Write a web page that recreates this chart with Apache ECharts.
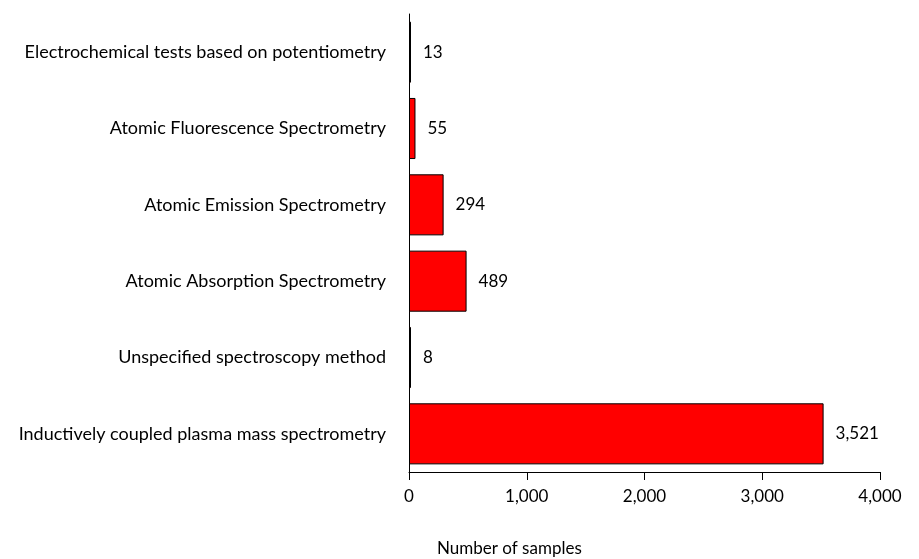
<!DOCTYPE html>
<html><head><meta charset="utf-8">
<script src="https://cdn.jsdelivr.net/npm/echarts@6/dist/echarts.min.js"></script>
<style>html,body{margin:0;padding:0;background:#fff}#c{width:919px;height:559px}</style>
</head><body><div id="c"></div>
<script>
const categories = [
  "Inductively coupled plasma mass spectrometry",
  "Unspecified spectroscopy method",
  "Atomic Absorption Spectrometry",
  "Atomic Emission Spectrometry",
  "Atomic Fluorescence Spectrometry",
  "Electrochemical tests based on potentiometry"
];
const sampleCounts = [3521, 8, 489, 294, 55, 13];
const xTicks = [0, 1000, 2000, 3000, 4000];
const xAxisTitle = "Number of samples";

const FONT = "Lato";
const chart = echarts.init(document.getElementById('c'), null, {renderer: 'canvas'});
chart.setOption({
  animation: false,
  backgroundColor: '#fff',
  grid: {left: 409, right: 39, top: 14, bottom: 87, containLabel: false},
  xAxis: {
    type: 'value', min: xTicks[0], max: xTicks[xTicks.length - 1], interval: 1000,
    axisLine: {show: true, lineStyle: {color: '#000', width: 1}},
    axisTick: {show: true, length: 8, lineStyle: {color: '#000'}},
    splitLine: {show: false},
    axisLabel: {margin: 16, color: '#000', fontFamily: FONT, fontSize: 17,
      formatter: v => v.toLocaleString('en-US')}
  },
  yAxis: {
    type: 'category', data: categories,
    axisLine: {show: true, lineStyle: {color: '#000', width: 1}},
    axisTick: {show: false},
    axisLabel: {margin: 23, color: '#000', fontFamily: FONT, fontSize: 18}
  },
  series: [{
    type: 'bar', data: sampleCounts, barCategoryGap: '20%', barMinHeight: 2,
    itemStyle: {color: '#ff0000', borderColor: '#000', borderWidth: 1},
    label: {show: true, position: 'right', distance: 12, color: '#000', fontFamily: FONT, fontSize: 17,
      formatter: p => p.value.toLocaleString('en-US')}
  }],
  graphic: [{
    type: 'text', left: 437, top: 540,
    style: {text: xAxisTitle, fill: '#000', font: '17px ' + FONT}
  }]
});
</script></body></html>
